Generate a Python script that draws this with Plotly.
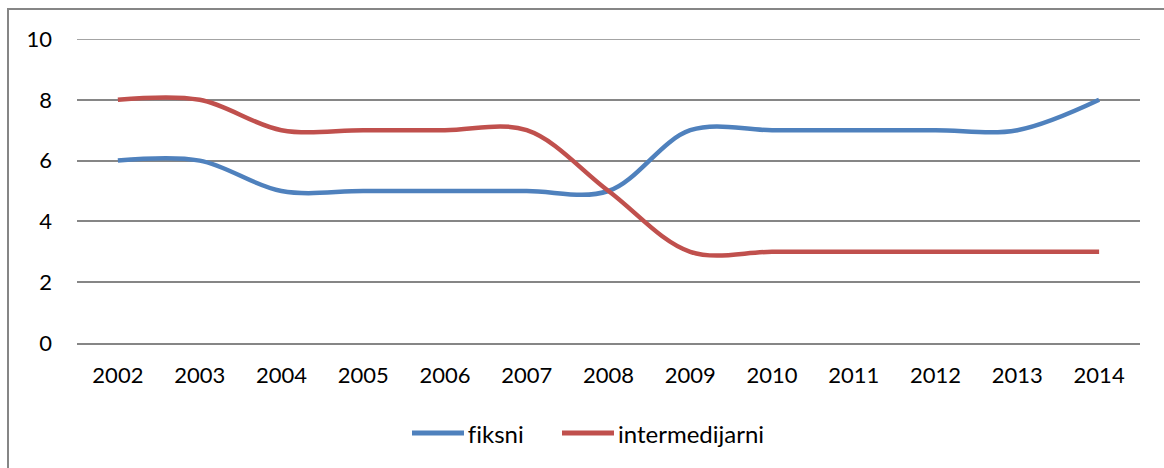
import plotly.graph_objects as go

years = ["2002", "2003", "2004", "2005", "2006", "2007", "2008", "2009", "2010", "2011", "2012", "2013", "2014"]
fiksni = [6, 6, 5, 5, 5, 5, 5, 7, 7, 7, 7, 7, 8]
intermedijarni = [8, 8, 7, 7, 7, 7, 5, 3, 3, 3, 3, 3, 3]
yticks = [0, 2, 4, 6, 8, 10]
series_names = ["fiksni", "intermedijarni"]
colors = ["#4F81BD", "#C0504D"]

FONT = "Lato"
GRID = "#868686"
fig = go.Figure()
for name, vals, col in zip(series_names, [fiksni, intermedijarni], colors):
    fig.add_trace(go.Scatter(x=years, y=vals, name=name, mode="lines", showlegend=False,
                             line=dict(color=col, width=4.5, shape="spline", smoothing=1)))

L, R, T, B = 77, 24, 39, 125
W, H = 1164, 468
pw, ph = W - L - R, H - T - B

def px_x(x):
    return (x - L) / pw

def px_y(y):
    return (H - B - y) / ph

shapes = [
    dict(type="rect", xref="paper", yref="paper", x0=px_x(8), x1=1.2, y0=-1.0, y1=px_y(9),
         line=dict(color=GRID, width=2), fillcolor="rgba(0,0,0,0)", layer="below"),
    dict(type="line", xref="paper", yref="y", x0=0, x1=1, y0=10, y1=10,
         line=dict(color=GRID, width=1.5), layer="below"),
]
annotations = []
leg_y = px_y(433)
sample_x = [(412, 464), (562, 614)]
for (x0, x1), name, col in zip(sample_x, series_names, colors):
    shapes.append(dict(type="line", xref="paper", yref="paper", x0=px_x(x0), x1=px_x(x1),
                       y0=leg_y, y1=leg_y, line=dict(color=col, width=5)))
    annotations.append(dict(xref="paper", yref="paper", x=px_x(x1 + 2), y=leg_y, text=name,
                            showarrow=False, xanchor="left", yanchor="middle",
                            font=dict(family=FONT, size=24, color="#000000")))

fig.update_layout(
    width=W, height=H,
    margin=dict(l=L, r=R, t=T, b=B),
    paper_bgcolor="white", plot_bgcolor="white",
    font=dict(family=FONT, size=22, color="#000000"),
    showlegend=False,
    xaxis=dict(type="category", range=[-0.5, 12.5], showgrid=False, zeroline=False,
               showline=True, linecolor=GRID, linewidth=1.5, ticks="", ticklabelstandoff=12),
    yaxis=dict(range=[0, 10], tickvals=yticks, showgrid=True, gridcolor=GRID, gridwidth=1.5,
               zeroline=False, showline=False, ticks="", ticklabelstandoff=24),
    shapes=shapes,
    annotations=annotations,
)
fig.write_html(
    "out.html",
    config={"displayModeBar": False},
    post_script="document.body.style.margin='0';"
                "var st=document.createElement('style');"
                "st.textContent='text{font-variant-ligatures:none;font-feature-settings:\"liga\" 0;}';"
                "document.head.appendChild(st);",
)
